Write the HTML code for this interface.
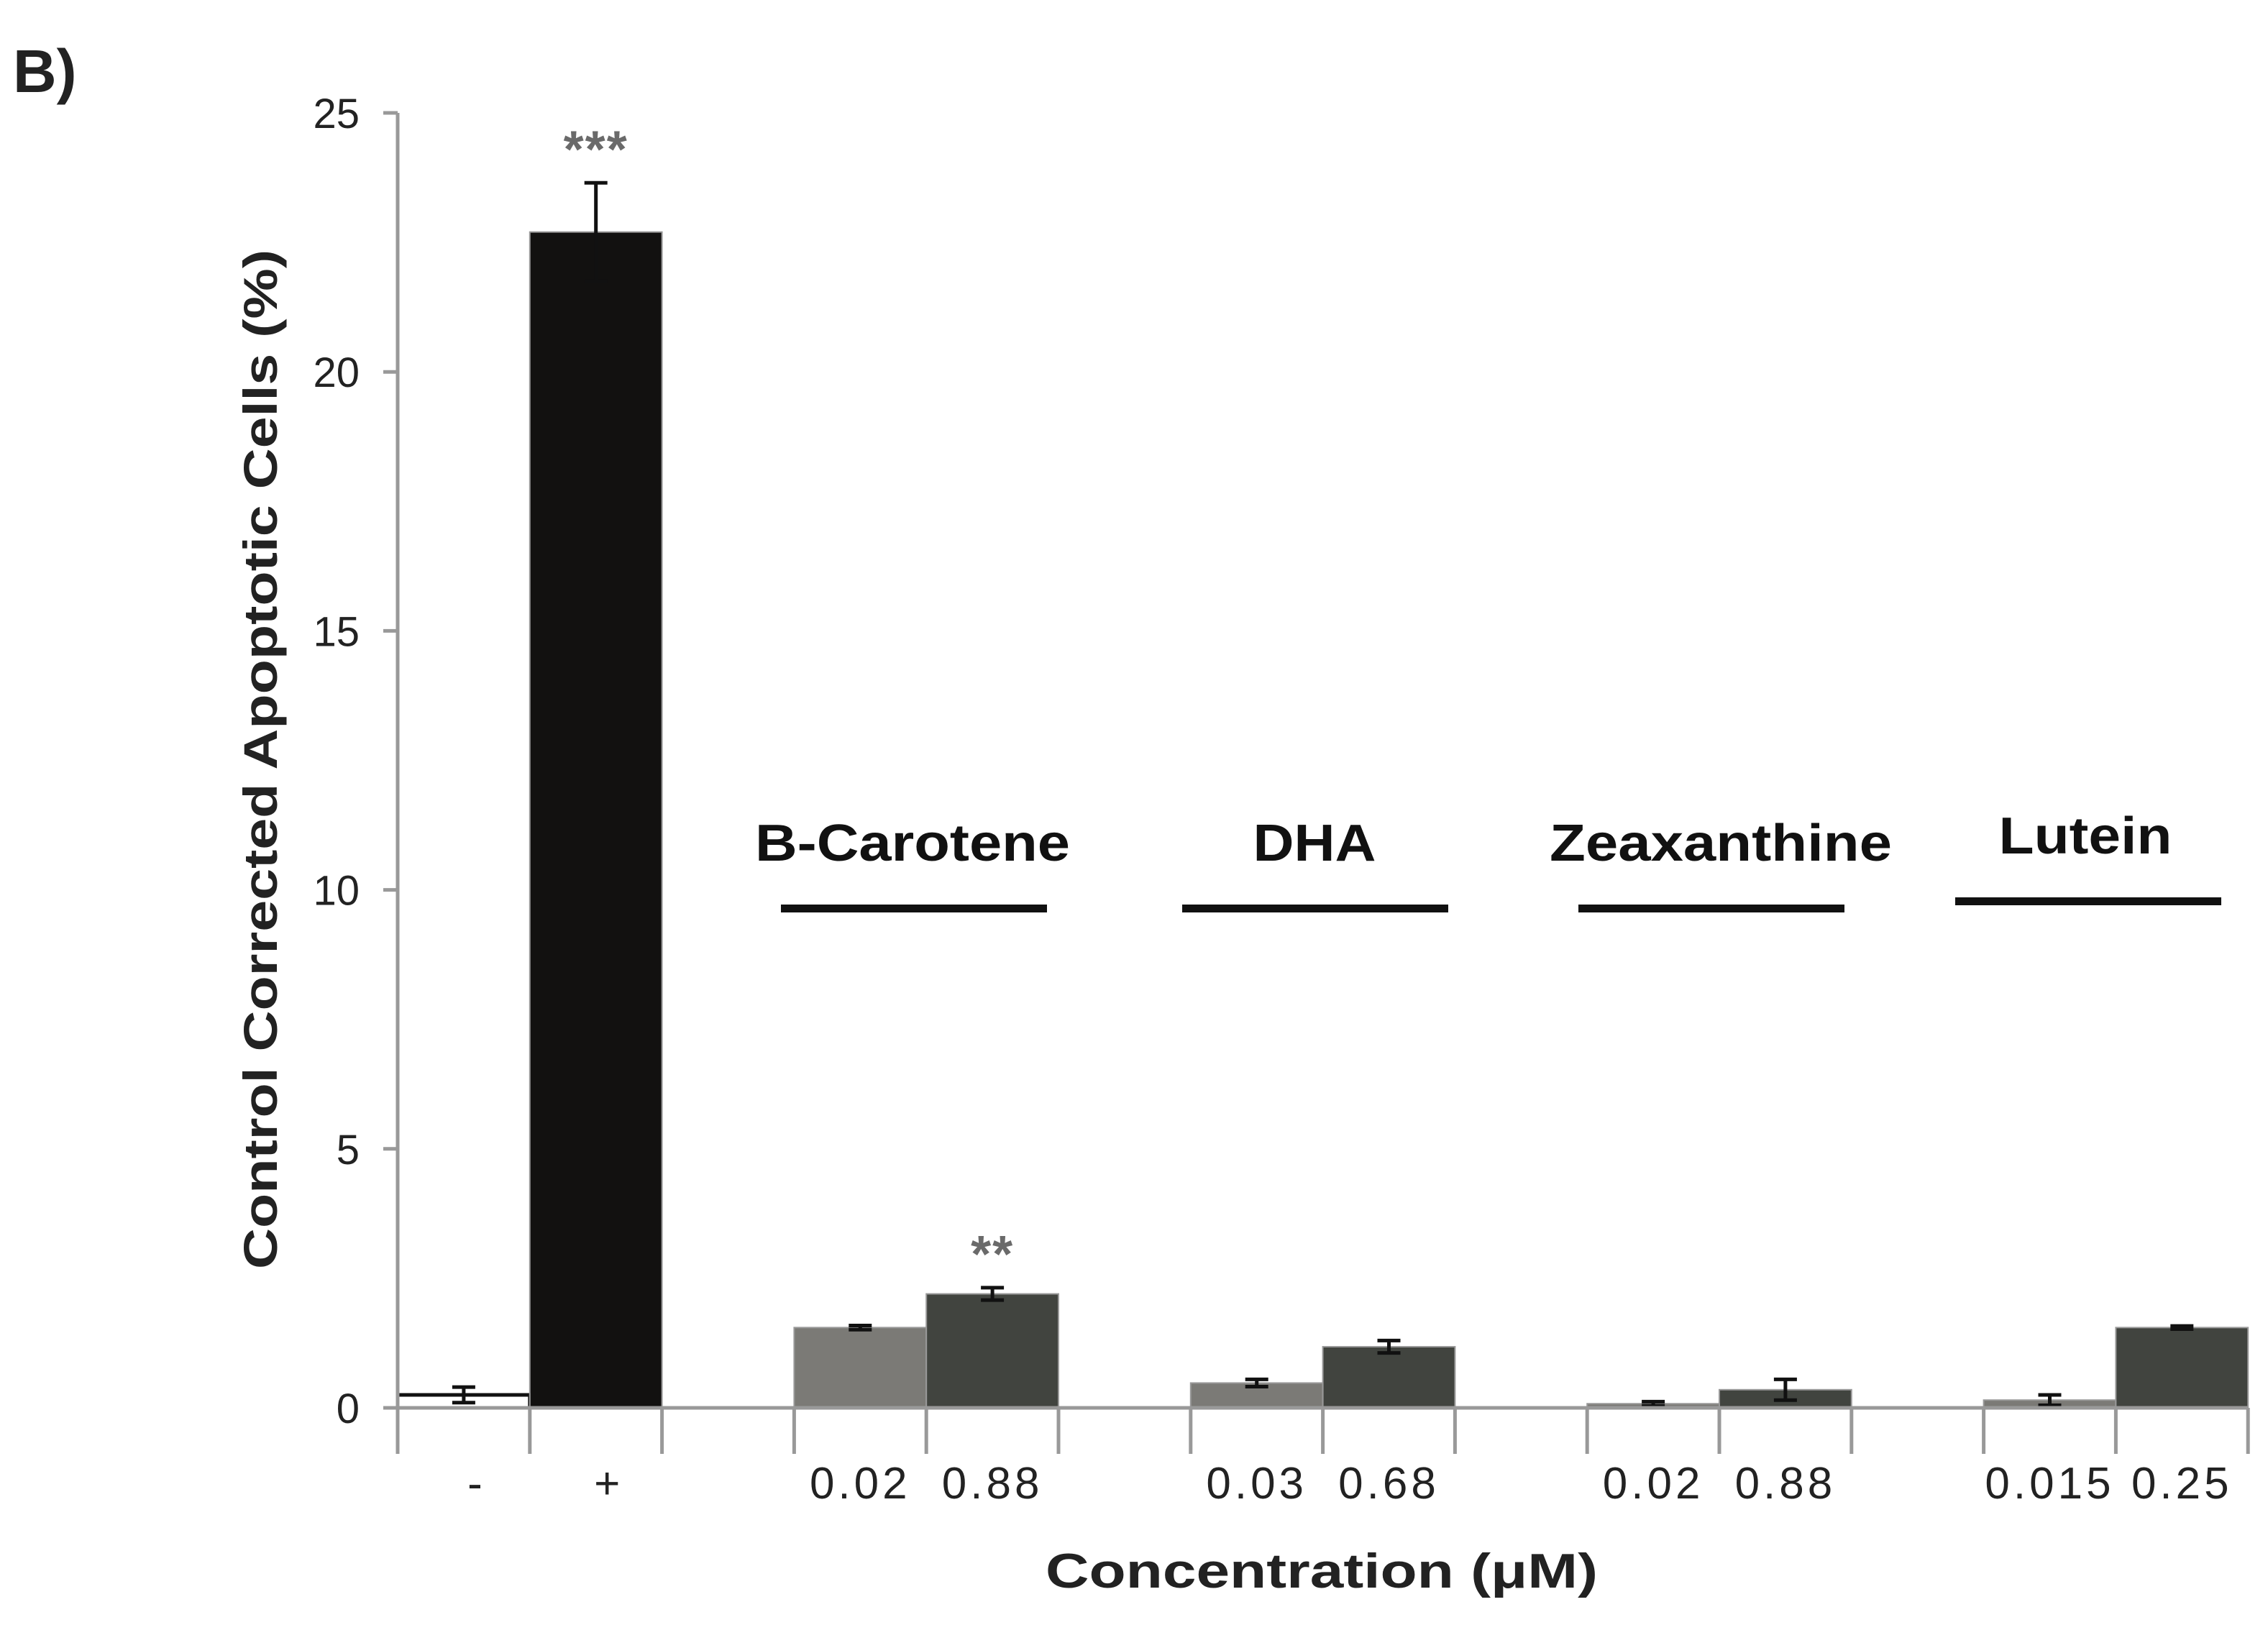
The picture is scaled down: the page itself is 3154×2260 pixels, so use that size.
<!DOCTYPE html>
<html><head><meta charset="utf-8"><style>
html,body{margin:0;padding:0;background:#fff;}
svg{display:block;font-family:"Liberation Sans",sans-serif;}
</style></head><body>
<svg id="chart" width="3154" height="2260" viewBox="0 0 3154 2260">
<text x="18" y="128" font-size="84" font-weight="bold" fill="#222">B)</text>
<text transform="translate(385,1056) rotate(-90)" text-anchor="middle" font-size="66" font-weight="bold" fill="#222" textLength="1418" lengthAdjust="spacingAndGlyphs">Control Corrected Apoptotic Cells (%)</text>
<text x="1838" y="2208" text-anchor="middle" font-size="68" font-weight="bold" fill="#222" textLength="768" lengthAdjust="spacingAndGlyphs">Concentration (μM)</text>
<g id="plot"></g>
</svg>
<script>
const categories = ["-", "+", "", "0.02", "0.88", "", "0.03", "0.68", "", "0.02", "0.88", "", "0.015", "0.25"];
const values = [0.25, 22.7, null, 1.55, 2.2, null, 0.48, 1.18, null, 0.08, 0.35, null, 0.15, 1.55];
const errors = [0.15, 0.95, null, 0.04, 0.12, null, 0.07, 0.12, null, 0.04, 0.2, null, 0.1, 0.03];
const barKinds = ["neg", "pos", "", "low", "high", "", "low", "high", "", "low", "high", "", "low", "high"];
const yTicks = [0, 5, 10, 15, 20, 25];
const groupNames = ["B-Carotene", "DHA", "Zeaxanthine", "Lutein"];
const groupStart = [3, 6, 9, 12];
const stars = [{i: 1, t: "***"}, {i: 4, t: "**"}];

const NS = "http://www.w3.org/2000/svg";
const X0 = 553, SLOT = 183.8, Y0 = 1958, YTOP = 157, YMAX = 25;
const y = v => Y0 - (v / YMAX) * (Y0 - YTOP);
const x = i => X0 + i * SLOT;
const g = document.getElementById('plot');
function mk(tag, attrs, parent) {
  const e = document.createElementNS(NS, tag);
  for (const k in attrs) e.setAttribute(k, attrs[k]);
  (parent || g).appendChild(e);
  return e;
}
const colors = {neg: "#ffffff", pos: "#121110", low: "#7b7a76", high: "#41443f"};

values.forEach((v, i) => {
  if (v === null) return;
  const r = mk('rect', {x: x(i), y: y(v), width: SLOT, height: Y0 - y(v), fill: colors[barKinds[i]], stroke: barKinds[i] === "neg" ? "#111" : "#999", 'stroke-width': barKinds[i] === "neg" ? 5 : 2});
  
  
  const cx = x(i) + SLOT / 2, e = errors[i];
  const eb = mk('path', {d: `M${cx},${y(v + e)}V${y(v - e)}M${cx - 16},${y(v + e)}H${cx + 16}M${cx - 16},${y(v - e)}H${cx + 16}`, stroke: "#111", 'stroke-width': 5, fill: "none"});
  
  
});

const ya = mk('path', {d: `M${X0},${YTOP}V${Y0}`, stroke: "#999", 'stroke-width': 5, fill: "none"});


const xa = mk('path', {d: `M${X0 - 20},${Y0}H${x(categories.length)}`, stroke: "#999", 'stroke-width': 5, fill: "none"});



yTicks.forEach(t => {
  mk('path', {d: `M${X0 - 20},${y(t)}H${X0}`, stroke: "#999", 'stroke-width': 5});
  const tx = mk('text', {x: 500, y: y(t) + 21, 'text-anchor': "end", 'font-size': 58, fill: "#222"});
  tx.textContent = t;
  
  
});
for (let i = 0; i <= categories.length; i++) {
  mk('path', {d: `M${x(i)},${Y0}V${Y0 + 64}`, stroke: "#999", 'stroke-width': 5});
}
categories.forEach((c, i) => {
  if (!c) return;
  const shift = (c === "-" || c === "+") ? 18 : 0;
  const tx = mk('text', {x: x(i) + SLOT / 2 + shift, y: 2084, 'text-anchor': "middle", 'font-size': 62, 'letter-spacing': 5, fill: "#222"});
  tx.textContent = c;
  
  
});

const labelW = [438, 171, 476, 241];
const textCx = [1269, 1828, 2393, 2900];
const lineCx = [1271, 1829, 2380, 2904];
groupNames.forEach((n, k) => {
  const off = k === 3 ? -10 : 0;
  const tx = mk('text', {x: textCx[k], y: 1197 + off, 'text-anchor': "middle", 'font-size': 72, 'font-weight': "bold", fill: "#111", textLength: labelW[k], lengthAdjust: "spacingAndGlyphs"});
  tx.textContent = n;
  
  
  const ln = mk('rect', {x: lineCx[k] - 185, y: 1258 + off, width: 370, height: 11, fill: "#111"});
  
  
});

stars.forEach(s => {
  const v = values[s.i] + errors[s.i];
  const tx = mk('text', {x: x(s.i) + SLOT / 2, y: y(v) - 22, 'text-anchor': "middle", 'font-size': 72, 'font-weight': "bold", 'letter-spacing': 2, fill: "#6a6a6a"});
  tx.textContent = s.t;
  
  
});
</script>
</body></html>
